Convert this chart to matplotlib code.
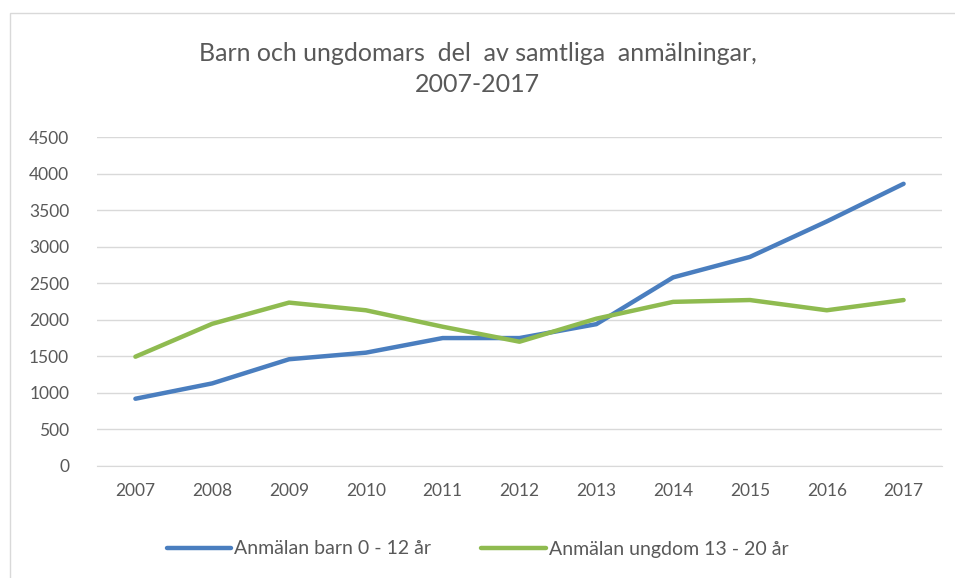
import matplotlib
matplotlib.use("Agg")
import matplotlib.pyplot as plt
from matplotlib.patches import Rectangle

plt.rcParams['font.family'] = ['Liberation Sans Narrow', 'Lato', 'DejaVu Sans']

years = ['2007', '2008', '2009', '2010', '2011', '2012', '2013', '2014', '2015', '2016', '2017']
barn = [920, 1130, 1460, 1550, 1750, 1750, 1940, 2580, 2860, 3345, 3860]
ungdom = [1495, 1945, 2235, 2130, 1905, 1700, 2015, 2245, 2270, 2130, 2270]
yticks = [0, 500, 1000, 1500, 2000, 2500, 3000, 3500, 4000, 4500]

text_col = '#595959'
grid_col = '#d9d9d9'

fig = plt.figure(figsize=(9.55, 5.78), dpi=100)
fig.patches.append(Rectangle((10 / 955, -0.01), 1.0, (578 - 13) / 578 + 0.01,
                             transform=fig.transFigure, fill=False,
                             edgecolor='#d9d9d9', linewidth=1.0))

ax = fig.add_axes([97 / 955, 1 - 466 / 578, (942 - 97) / 955, (466 - 137) / 578])
x = list(range(len(years)))
ax.plot(x, barn, color='#4a7ebf', linewidth=3.2, solid_capstyle='round',
        label='Anmälan barn 0 - 12 år')
ax.plot(x, ungdom, color='#8fbb50', linewidth=3.2, solid_capstyle='round',
        label='Anmälan ungdom 13 - 20 år')

ax.set_xlim(-0.5, len(years) - 0.5)
ax.set_ylim(0, 4500)
ax.set_yticks(yticks)
ax.set_xticks(x)
ax.set_xticklabels(years)
ax.grid(axis='y', color=grid_col, linewidth=1.0)
ax.set_axisbelow(True)
for s in ['top', 'right', 'left']:
    ax.spines[s].set_visible(False)
ax.spines['bottom'].set_color(grid_col)
ax.tick_params(length=0, labelsize=12.5, colors=text_col)
ax.tick_params(axis='x', pad=12)
ax.tick_params(axis='y', pad=20)

fig.text(0.5, 1 - 69 / 578, 'Barn och ungdomars  del  av samtliga  anmälningar,\n2007-2017',
         ha='center', va='center', fontsize=18, color=text_col, linespacing=1.45)

fig.legend(loc='center', bbox_to_anchor=(0.5, 1 - 549 / 578), ncol=2, frameon=False,
           fontsize=14, labelcolor=text_col, handlelength=3.3, handletextpad=0.15,
           columnspacing=2.6)

fig.savefig('out.png', dpi=100)
